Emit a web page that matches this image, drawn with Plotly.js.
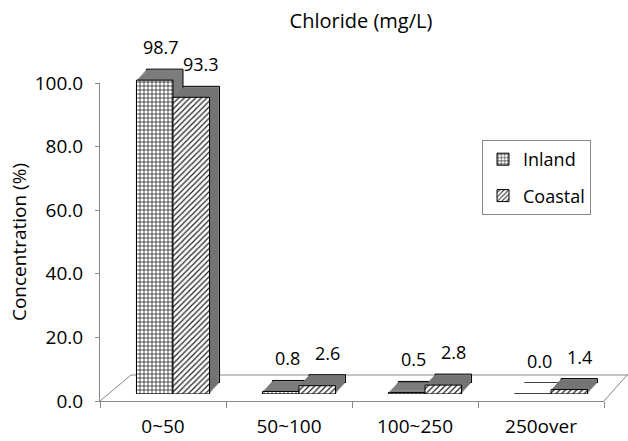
<!DOCTYPE html>
<html>
<head>
<meta charset="utf-8">
<script src="https://cdn.plot.ly/plotly-3.0.1.min.js"></script>
<style>html,body{margin:0;padding:0;background:#fff;}#chart{width:628px;height:441px;}</style>
</head>
<body>
<div id="chart"></div>
<script>
// ---- data ----
const categories = ['0~50', '50~100', '100~250', '250over'];
const inland = [98.7, 0.8, 0.5, 0.0];
const coastal = [93.3, 2.6, 2.8, 1.4];
const seriesNames = ['Inland', 'Coastal'];
const yTicks = [0, 20, 40, 60, 80, 100];

// ---- geometry (pixels) ----
const W = 628, H = 441;
const M = {l: 100, r: 0, t: 40, b: 40};
const PW = W - M.l - M.r, PH = H - M.t - M.b;
const AX_W = 504, AX_H = 318;      // visible axis lengths
const FRONT_DX = 10, FRONT_DY = 7;  // bar front offset from axes
const DEPTH_X = 10, DEPTH_Y = 11;   // 3D depth
const N = 10;                        // extrusion layers
const FONT = '"Open Sans", "Noto Sans", sans-serif';

const traces = [];
const layout = {
  width: W, height: H,
  margin: M,
  paper_bgcolor: '#fff',
  plot_bgcolor: 'rgba(0,0,0,0)',
  font: {family: FONT, color: '#000', size: 18},
  barmode: 'group',
  bargap: 0.42,
  bargroupgap: 0,
  showlegend: true,
  title: {text: 'Chloride (mg/L)', xref: 'container', x: 361 / W, xanchor: 'center',
    yref: 'container', y: 1 - 21 / H, yanchor: 'middle', font: {size: 20, family: FONT}},
  xaxis: {
    domain: [0, AX_W / PW], type: 'category', range: [-0.5, 3.5],
    categoryorder: 'array', categoryarray: categories,
    showline: true, linecolor: '#888', linewidth: 1,
    ticks: 'outside', tickson: 'boundaries', ticklen: 6, tickcolor: '#888',
    ticklabelstandoff: 8,
    showgrid: false, zeroline: false, tickfont: {size: 19}, fixedrange: true
  },
  yaxis: {
    domain: [0, AX_H / PH], range: [0, 100], tickvals: yTicks, tickformat: '.1f',
    showline: true, linecolor: '#888', linewidth: 1,
    ticks: 'outside', ticklen: 4, tickcolor: '#888', ticklabelstandoff: 8,
    showgrid: false, zeroline: false, tickfont: {size: 19},
    title: {text: 'Concentration (%)', font: {size: 19}, standoff: 3}, fixedrange: true
  },
  legend: {
    x: (482 - M.l) / PW, y: (401 - 140) / PH, xanchor: 'left', yanchor: 'top',
    bordercolor: '#888', borderwidth: 1, bgcolor: '#fff',
    font: {size: 18}, tracegroupgap: 10, traceorder: 'grouped', itemwidth: 30
  },
  shapes: [],
  annotations: []
};

// invisible anchor trace on the main axes (keeps the category axis labelled)
traces.push({type: 'bar', x: categories, y: inland, xaxis: 'x', yaxis: 'y',
  marker: {color: 'rgba(0,0,0,0)'}, showlegend: false, hoverinfo: 'skip'});

function addAxes(idx, dx, dy) {
  layout['xaxis' + idx] = {domain: [dx / PW, (dx + AX_W) / PW], anchor: 'y' + idx, type: 'category',
    range: [-0.5, 3.5], categoryorder: 'array', categoryarray: categories, visible: false, fixedrange: true};
  layout['yaxis' + idx] = {domain: [dy / PH, (dy + AX_H) / PH], anchor: 'x' + idx, range: [0, 100],
    visible: false, fixedrange: true};
}

// extrusion layers, back to front
let axIdx = 2;
for (let k = N; k >= 1; k--) {
  const dx = FRONT_DX + k * DEPTH_X / N, dy = FRONT_DY + k * DEPTH_Y / N;
  addAxes(axIdx, dx, dy);
  const back = (k === N);
  [inland, coastal].forEach((vals, s) => {
    traces.push({type: 'bar', x: categories, y: vals, xaxis: 'x' + axIdx, yaxis: 'y' + axIdx,
      marker: {color: back ? '#8a8a8a' : (s === 0 ? '#7c7c7c' : '#747474'),
        line: {color: '#000', width: back ? 1 : 0}},
      showlegend: false, hoverinfo: 'skip'});
  });
  axIdx++;
}

// front faces
const F = axIdx;
addAxes(F, FRONT_DX, FRONT_DY);
traces.push({type: 'bar', name: seriesNames[0], x: categories, y: inland, xaxis: 'x' + F, yaxis: 'y' + F,
  legendgroup: 'a',
  marker: {color: '#fff', line: {color: '#000', width: 1},
    pattern: {shape: '+', size: 4, solidity: 0.3, fgcolor: '#000', bgcolor: '#fff'}}});
traces.push({type: 'bar', name: seriesNames[1], x: categories, y: coastal, xaxis: 'x' + F, yaxis: 'y' + F,
  legendgroup: 'b',
  marker: {color: '#fff', line: {color: '#000', width: 1},
    pattern: {shape: '/', size: 4, solidity: 0.3, fgcolor: '#222', bgcolor: '#fff'}}});

// value labels
[inland, coastal].forEach((vals, s) => {
  vals.forEach((v, i) => {
    layout.annotations.push({xref: 'x' + F, yref: 'y' + F, x: categories[i], y: v,
      text: v.toFixed(1), showarrow: false, xshift: s === 0 ? -12 : 28, yshift: 33,
      font: {size: 18}});
  });
});

// floor (decoration)
const px = p => (p - M.l) / PW, py = p => (H - M.b - p) / PH;
const floorLine = {color: '#888', width: 1};
layout.shapes.push({type: 'line', xref: 'paper', yref: 'paper', x0: px(100), y0: py(401), x1: px(131), y1: py(375), line: floorLine, layer: 'below'});
layout.shapes.push({type: 'line', xref: 'paper', yref: 'paper', x0: px(131), y0: py(375), x1: px(628), y1: py(375), line: floorLine, layer: 'below'});
layout.shapes.push({type: 'line', xref: 'paper', yref: 'paper', x0: px(604), y0: py(401), x1: px(628), y1: py(374), line: floorLine, layer: 'below'});

Plotly.newPlot('chart', traces, layout, {displayModeBar: false, staticPlot: true});
</script>
</body>
</html>
